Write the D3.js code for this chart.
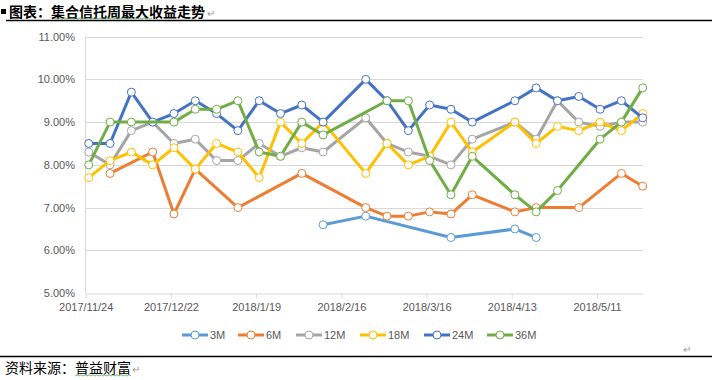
<!DOCTYPE html>
<html><head><meta charset="utf-8">
<script src="https://cdn.jsdelivr.net/npm/d3@7"></script>
<style>
html,body{margin:0;padding:0;background:#fff;}
svg{display:block;}
</style></head>
<body>
<svg id="c" width="712" height="380"></svg>
<script>
const dates = ["2017-11-25","2017-12-02","2017-12-09","2017-12-16","2017-12-23","2017-12-30",
  "2018-01-06","2018-01-13","2018-01-20","2018-01-27","2018-02-03","2018-02-10","2018-02-17",
  "2018-02-24","2018-03-03","2018-03-10","2018-03-17","2018-03-24","2018-03-31","2018-04-07",
  "2018-04-14","2018-04-21","2018-04-28","2018-05-05","2018-05-12","2018-05-19","2018-05-26"];
const seriesNames = ["3M","6M","12M","18M","24M","36M"];
const s3M  = [null,null,null,null,null,null,null,null,null,null,null,6.6,null,6.8,null,null,null,6.3,null,null,6.5,6.3,null,null,null,null,null];
const s6M  = [null,7.8,null,8.3,6.85,7.9,null,7.0,null,null,7.8,null,null,7.0,6.8,6.8,6.9,6.85,7.3,null,6.9,7.0,null,7.0,null,7.8,7.5];
const s12M = [8.3,8.0,8.8,9.0,8.5,8.6,8.1,8.1,8.5,8.2,8.4,8.3,null,9.1,8.5,8.3,8.2,8.0,8.6,null,9.0,8.6,9.5,9.0,8.9,9.0,9.0];
const s18M = [7.7,8.1,8.3,8.0,8.4,7.9,8.5,8.3,7.7,9.0,8.5,9.0,null,7.8,8.5,8.0,8.2,9.0,8.3,null,9.0,8.5,8.9,8.8,9.0,8.8,9.2];
const s24M = [8.5,8.5,9.7,9.0,9.2,9.5,9.2,8.8,9.5,9.2,9.4,9.0,null,10.0,9.5,8.8,9.4,9.3,9.0,null,9.5,9.8,9.5,9.6,9.3,9.5,9.1];
const s36M = [8.0,9.0,9.0,null,9.0,9.3,9.3,9.5,8.3,8.2,9.0,8.7,null,null,9.5,9.5,8.1,7.3,8.2,null,7.3,6.9,7.4,null,8.6,9.0,9.8];
const seriesValues = [s3M,s6M,s12M,s18M,s24M,s36M];
const colors = ["#5B9BD5","#ED7D31","#A5A5A5","#FFC000","#4472C4","#70AD47"];
const yTicks = [5,6,7,8,9,10,11];
const xTickLabels = ["2017/11/24","2017/12/22","2018/1/19","2018/2/16","2018/3/16","2018/4/13","2018/5/11"];
const axisStart = "2017-11-24", axisEnd = "2018-05-26";

const parse = d3.timeParse("%Y-%m-%d");
const parseSlash = d3.timeParse("%Y/%m/%d");
const svg = d3.select("#c");
const font = "'Liberation Sans', Arial, sans-serif";
const cjk = "'Noto Sans CJK SC', sans-serif";

const x = d3.scaleTime().domain([parse(axisStart), parse(axisEnd)]).range([85.7, 642.7]);
const y = d3.scaleLinear().domain([5, 11]).range([293.1, 36.6]);

// title
svg.append("rect").attr("x",1).attr("y",9).attr("width",5).attr("height",5).attr("fill","#000");
svg.append("text").attr("x",9).attr("y",17).attr("font-family",cjk).attr("font-weight","bold")
  .attr("font-size",14).attr("fill","#000").text("图表：集合信托周最大收益走势");
svg.append("text").attr("x",207).attr("y",17).attr("font-family",font).attr("font-size",10).attr("fill","#999").text("↵");
svg.append("line").attr("x1",6).attr("x2",712).attr("y1",20.5).attr("y2",20.5).attr("stroke","#000").attr("stroke-width",1.5);
function wavy(x0,x1,yy){
  let p = "M"+x0+","+yy; let up=true;
  for(let xx=x0+2; xx<=x1; xx+=2){ p += "L"+xx+","+(up?yy-1.2:yy); up=!up; }
  svg.append("path").attr("d",p).attr("fill","none").attr("stroke","#4fa34f").attr("stroke-width",0.8);
}
wavy(54,152,19);

// gridlines
svg.append("g").selectAll("line").data(yTicks.slice(1)).join("line")
  .attr("x1",x.range()[0]).attr("x2",x.range()[1])
  .attr("y1",d=>Math.round(y(d))+0.5).attr("y2",d=>Math.round(y(d))+0.5)
  .attr("stroke","#d9d9d9").attr("stroke-width",1);

// y axis line
svg.append("line").attr("x1",85.5).attr("x2",85.5).attr("y1",y(11)).attr("y2",y(5)).attr("stroke","#d9d9d9");

// x axis
const xAxis = d3.axisBottom(x).tickValues(xTickLabels.map(s=>parseSlash(s)))
  .tickFormat((d,i)=>xTickLabels[i]).tickSize(5).tickSizeOuter(0);
const gx = svg.append("g").attr("transform","translate(0,"+(Math.round(y(5))+0.5)+")").call(xAxis);
gx.select(".domain").attr("stroke","#d9d9d9");
gx.selectAll(".tick line").attr("stroke","#d9d9d9");
gx.selectAll("text").attr("font-family",font).attr("font-size",11).attr("fill","#595959").attr("dy","0.6em").attr("y",11);

// y labels
const yAxis = d3.axisLeft(y).tickValues(yTicks).tickFormat(d=>d.toFixed(2)+"%").tickSize(0);
const gy = svg.append("g").attr("transform","translate(75,0)").call(yAxis);
gy.select(".domain").remove();
gy.selectAll("text").attr("font-family",font).attr("font-size",11).attr("fill","#595959").attr("x",0);

// series
const line = d3.line().x(d=>x(d.date)).y(d=>y(d.v));
seriesNames.forEach((name,k)=>{
  const pts = dates.map((d,i)=>({date:parse(d), v:seriesValues[k][i]})).filter(p=>p.v!==null);
  const g = svg.append("g");
  g.append("path").datum(pts).attr("d",line).attr("fill","none").attr("stroke",colors[k])
    .attr("stroke-width",3).attr("stroke-linejoin","round").attr("stroke-linecap","round");
  g.selectAll("circle").data(pts).join("circle").attr("cx",d=>x(d.date)).attr("cy",d=>y(d.v))
    .attr("r",4).attr("fill","#fff").attr("stroke",colors[k]).attr("stroke-width",1);
});

// legend
const legX = [182,238,296,360,424,487];
const lg = svg.append("g");
seriesNames.forEach((name,k)=>{
  const lx = legX[k];
  lg.append("line").attr("x1",lx).attr("x2",lx+26).attr("y1",335).attr("y2",335)
    .attr("stroke",colors[k]).attr("stroke-width",3);
  lg.append("circle").attr("cx",lx+13).attr("cy",335).attr("r",4).attr("fill","#fff")
    .attr("stroke",colors[k]).attr("stroke-width",1);
  lg.append("text").attr("x",lx+28).attr("y",339).attr("font-family",font).attr("font-size",11)
    .attr("fill","#595959").text(name);
});

svg.append("text").attr("x",683).attr("y",353).attr("font-family",font).attr("font-size",10).attr("fill","#999").text("↵");
svg.append("line").attr("x1",0).attr("x2",712).attr("y1",356.5).attr("y2",356.5).attr("stroke","#000").attr("stroke-width",1.5);
svg.append("text").attr("x",5).attr("y",373).attr("font-family",cjk).attr("font-size",14).attr("fill","#000").text("资料来源：普益财富");
svg.append("text").attr("x",132).attr("y",373).attr("font-family",font).attr("font-size",10).attr("fill","#999").text("↵");
wavy(75,132,376);
</script>
</body></html>
